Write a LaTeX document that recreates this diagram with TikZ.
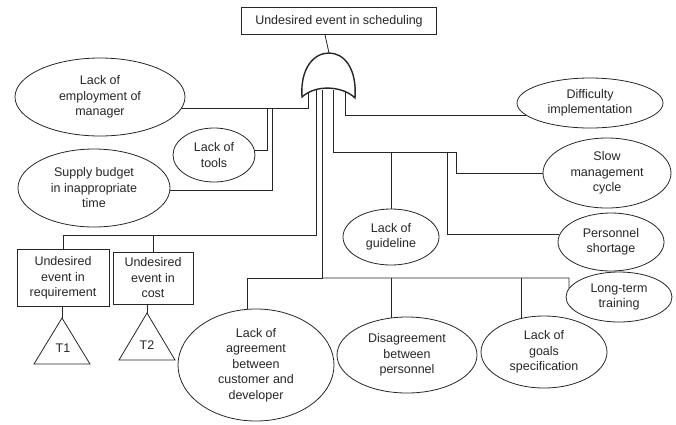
\documentclass[tikz,border=0pt]{standalone}
\usepackage{fontspec}
\setmainfont{Liberation Sans}
\usepackage{xcolor}
\usepackage{tikz}
\usetikzlibrary{shapes.geometric}

\begin{document}
\begin{tikzpicture}[x=1pt,y=-1pt,line width=0.8pt,color=black!85,
  every node/.style={font=\fontsize{12.5}{15.5}\selectfont,align=center},
  cause/.style={draw,ellipse,inner sep=0pt},
  event/.style={draw,rectangle,inner sep=0pt}]

\useasboundingbox (0,0) rectangle (676,424);

\node[event,minimum width=195,minimum height=27](top) at (339,21){Undesired event in scheduling};

\node[cause,minimum width=170,minimum height=78](employ) at (100,97){Lack of\\employment of\\manager};
\node[cause,minimum width=82,minimum height=54](tools) at (214,155){Lack of\\tools};
\node[cause,minimum width=152,minimum height=78](budget) at (94,188){Supply budget\\in inappropriate\\time};
\node[cause,minimum width=146,minimum height=50](diff) at (590,103){Difficulty\\implementation};
\node[cause,minimum width=128,minimum height=70](slow) at (607,173){Slow\\management\\cycle};
\node[cause,minimum width=96,minimum height=56](guide) at (391,237){Lack of\\guideline};
\node[cause,minimum width=106,minimum height=58](pers) at (611,242){Personnel\\shortage};
\node[cause,minimum width=106,minimum height=50](train) at (619,297){Long-term\\training};
\node[cause,minimum width=140,minimum height=76](disag) at (407,355){Disagreement\\between\\personnel};
\node[cause,minimum width=126,minimum height=72](goals) at (544,352){Lack of\\goals\\specification};
\node[cause,minimum width=156,minimum height=112](agree) at (256,365){Lack of\\agreement\\between\\customer and\\developer};

\node[event,minimum width=92,minimum height=57](req) at (63,278){Undesired\\event in\\requirement};
\node[event,minimum width=80,minimum height=52](cost) at (153,278){Undesired\\event in\\cost};

\coordinate (t1) at (62,318);
\draw (t1)--(90,364)--(34,364)--cycle;
\node(T1) at (63,348){T1};
\coordinate (t2) at (147,313);
\draw (t2)--(175,360)--(119,360)--cycle;
\node(T2) at (147,345){T2};
\draw (req.south -| t1)--(t1);
\draw (cost.south -| t2)--(t2);

\coordinate (gtop) at (329,53);
\coordinate (in1) at (308,90);
\coordinate (in2) at (316,90);
\coordinate (in3) at (322,90);
\coordinate (in4) at (333,90);
\coordinate (in5) at (345,90);
\coordinate (b1) at (316,235);
\coordinate (b2) at (322,278);
\coordinate (b3) at (456,152);

\draw (employ.-8) -| (in1);
\draw (tools.7) -| (267,108);
\draw (budget.-2) -| (272,108);

\draw (in2)--(b1) -| (req.north);
\draw (cost.north) |- (b1);

\draw (in3)--(b2) -| (agree.99);
\draw (b2)--(569,278)--(train.170);
\draw (disag.113)--(disag.113 |- b2);
\draw (goals.124)--(goals.124 |- b2);

\draw (in4) |- (b3) |- (slow.west);
\draw (guide.north)--(guide.north |- b3);
\draw (pers.172) -| (447,152);

\draw (in5) |- (diff.191);

\draw (top.south -| 325,0)--(gtop);
\draw[line width=1.4pt,fill=white](302,97) .. controls (300,68) and (314,53) .. (gtop)
  .. controls (344,53) and (357,68) .. (355,98)
  .. controls (343,86) and (316,84) .. (302,97)--cycle;

\end{tikzpicture}
\end{document}
